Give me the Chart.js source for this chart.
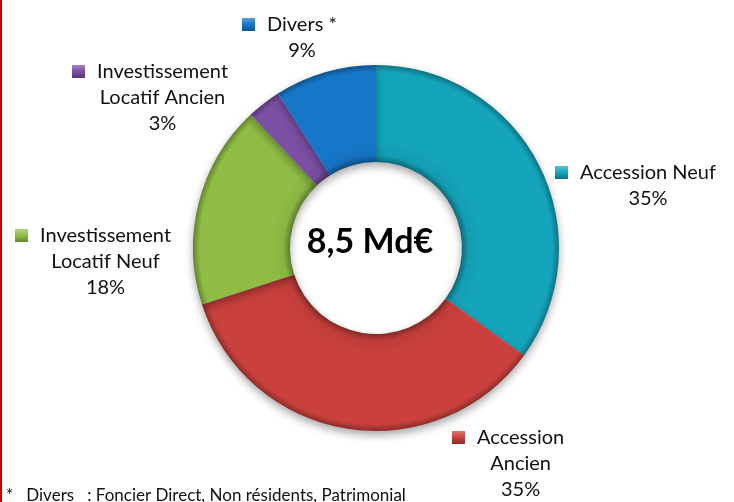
<!DOCTYPE html>
<html>
<head>
<meta charset="utf-8">
<script src="https://cdn.jsdelivr.net/npm/chart.js@4.4.1/dist/chart.umd.min.js"></script>
<style>
  html, body { margin: 0; padding: 0; background: #ffffff; }
  #wrap { position: relative; width: 734px; height: 502px; overflow: hidden; }
  #bar { position: absolute; left: 0; top: 0; width: 2px; height: 502px; background: #cc0000; }
  canvas { display: block; }
</style>
</head>
<body>
<div id="wrap">
  <canvas id="c" width="734" height="502"></canvas>
  <div id="bar"></div>
</div>
<script>
// ---- data ----
const categories = ['Accession Neuf', 'Accession Ancien', 'Investissement Locatif Neuf', 'Investissement Locatif Ancien', 'Divers'];
const shares = [35, 35, 18, 3, 9];
const labelLines = [['Accession Neuf'], ['Accession', 'Ancien'], ['Investissement', 'Locatif Neuf'], ['Investissement', 'Locatif Ancien'], ['Divers *']];
const colors = ['#14a4bb', '#c9403c', '#8fbd45', '#7b4fa3', '#1677c8'];
const centerText = '8,5 Md€';
const footnote = '*   Divers   : Foncier Direct, Non résidents, Patrimonial';

// ---- layout (label anchors: left of first text line, middle of first line) ----
const labelAnchors = [[580, 173], [477, 438], [40, 236], [97, 72], [267, 25]];
const FONT = '"Lato", "Open Sans", sans-serif';

function shade(hex, f) {
  const n = parseInt(hex.slice(1), 16);
  let r = (n >> 16) & 255, g = (n >> 8) & 255, b = n & 255;
  if (f < 0) { r = r * (1 + f); g = g * (1 + f); b = b * (1 + f); }
  else { r = r + (255 - r) * f; g = g + (255 - g) * f; b = b + (255 - b) * f; }
  return `rgb(${Math.round(r)},${Math.round(g)},${Math.round(b)})`;
}

function ringFill(context) {
  const chart = context.chart;
  const base = colors[context.dataIndex];
  const area = chart.chartArea;
  if (!area) return base;
  const cx = (area.left + area.right) / 2, cy = (area.top + area.bottom) / 2;
  const R = Math.min(area.right - area.left, area.bottom - area.top) / 2;
  const r = R * 0.47;
  const g = chart.ctx.createRadialGradient(cx, cy, r, cx, cy, R);
  g.addColorStop(0, shade(base, -0.35));
  g.addColorStop(0.07, shade(base, -0.05));
  g.addColorStop(0.2, base);
  g.addColorStop(0.8, base);
  g.addColorStop(0.93, base);
  g.addColorStop(1, shade(base, -0.3));
  return g;
}

const shadowPlugin = {
  id: 'shadow',
  beforeDatasetsDraw(chart) {
    const ctx = chart.ctx;
    ctx.save();
    ctx.shadowColor = 'rgba(0,0,0,0.35)';
    ctx.shadowBlur = 8;
    ctx.shadowOffsetX = 0;
    ctx.shadowOffsetY = 4;
  },
  afterDatasetsDraw(chart) {
    chart.ctx.restore();
  }
};

const textPlugin = {
  id: 'texts',
  afterDraw(chart) {
    const ctx = chart.ctx;
    const area = chart.chartArea;
    const cx = (area.left + area.right) / 2, cy = (area.top + area.bottom) / 2;
    ctx.save();
    // centre text
    ctx.fillStyle = '#000';
    ctx.font = 'bold 34px ' + FONT;
    ctx.textAlign = 'center';
    ctx.textBaseline = 'middle';
    ctx.fillText(centerText, cx - 6, cy - 6);

    // outside labels
    ctx.font = '20px ' + FONT;
    const total = shares.reduce((a, b) => a + b, 0);
    categories.forEach((cat, i) => {
      const [lx, ly] = labelAnchors[i];
      const lines = labelLines[i].concat([Math.round(shares[i] / total * 100) + '%']);
      ctx.textAlign = 'left';
      const w0 = ctx.measureText(lines[0]).width;
      const mid = lx + w0 / 2;
      // square marker
      const sq = 13, sx = lx - 25, sy = ly - 7;
      const sg = ctx.createLinearGradient(sx, sy, sx, sy + sq);
      sg.addColorStop(0, shade(colors[i], 0.3));
      sg.addColorStop(0.5, colors[i]);
      sg.addColorStop(1, shade(colors[i], -0.3));
      ctx.fillStyle = sg;
      ctx.fillRect(sx, sy, sq, sq);
      ctx.fillStyle = '#111';
      ctx.textBaseline = 'middle';
      ctx.fillText(lines[0], lx, ly);
      ctx.textAlign = 'center';
      for (let k = 1; k < lines.length; k++) {
        ctx.fillText(lines[k], mid, ly + 26 * k);
      }
    });

    // footnote
    ctx.font = '17px ' + FONT;
    ctx.textAlign = 'left';
    ctx.textBaseline = 'alphabetic';
    ctx.fillStyle = '#111';
    ctx.fillText(footnote, 6, 501);
    ctx.restore();
  }
};

new Chart(document.getElementById('c'), {
  type: 'doughnut',
  data: {
    labels: categories,
    datasets: [{
      data: shares,
      backgroundColor: ringFill,
      borderWidth: 0,
      hoverBorderWidth: 0,
      hoverOffset: 0,
      offset: 0
    }]
  },
  options: {
    responsive: false,
    animation: false,
    cutout: '47%',
    rotation: 0,
    layout: { padding: { left: 193, right: 175, top: 65, bottom: 71 } },
    plugins: { legend: { display: false }, tooltip: { enabled: false }, title: { display: false } },
    events: []
  },
  plugins: [shadowPlugin, textPlugin]
});
</script>
</body>
</html>
